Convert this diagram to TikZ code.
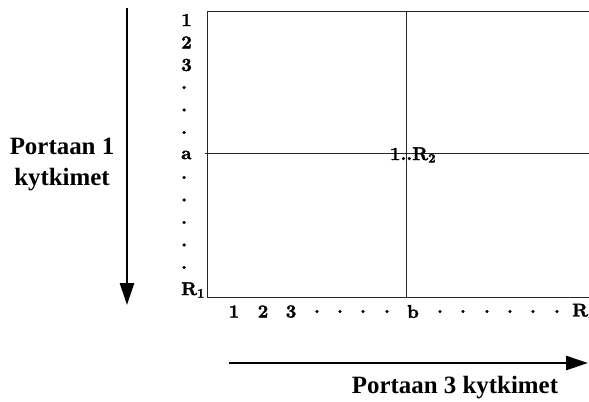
\documentclass[tikz,border=0pt]{standalone}
\usepackage{fontspec}
\newfontfamily\capfont{Liberation Serif}
\newfontfamily\idxfont{lmroman10-bold.otf}[FakeBold=1.8]
\usetikzlibrary{arrows.meta}

\tikzset{
    idx/.style={font=\idxfont\fontsize{18.5}{18.5}\selectfont, inner sep=0pt},
    caption/.style={font=\capfont\bfseries\fontsize{25}{32}\selectfont, align=center, inner sep=0pt},
    gridline/.style={line width=1bp, black!85},
    axisarrow/.style={line width=2.6bp, -{Triangle[length=22bp,width=14bp]}}
}

\begin{document}
\begin{tikzpicture}[x=1bp,y=-1bp]
        \useasboundingbox (0,0) rectangle (589,401);
        \clip (0,0) rectangle (589,401);

        % Switch frame
        \coordinate (tl) at (207,11);
        \coordinate (bl) at (207,297);
        \coordinate (tr) at (600,11);
        \coordinate (br) at (600,297);
        \draw[gridline] (tr) -- (tl) -- (bl) -- (br);

        % Crossing lines
        \coordinate (aw) at (205,153);
        \coordinate (ae) at (600,153);
        \coordinate (bn) at (406,11);
        \coordinate (bs) at (406,297);
        \draw[gridline] (aw) -- (ae);
        \draw[gridline] (bn) -- (bs);
        \node[idx] (cross) at (413,155) {1..R\textsubscript{2}};

        % Row labels, stage 1
        \foreach \lbl [count=\i from 0] in {1,2,3,.,.,.,a,.,.,.,.,.,R\textsubscript{1}}
            \node[idx, anchor=west] (row\i) at (181,{20+22.5*\i}) {\lbl};

        % Column labels, stage 3
        \foreach \x/\lbl [count=\i] in {234/1,263/2,291/3,317/.,340/.,363/.,387/.,
                413/b,440/.,463/.,487/.,510/.,533/.,557/.}
            \node[idx] (col\i) at (\x,311.5) {\lbl};
        \node[idx, anchor=west] (colR) at (572,311.5) {R\textsubscript{3}};

        % Stage 1 arrow
        \coordinate (p1s) at (127,8);
        \coordinate (p1e) at (127,305);
        \draw[axisarrow] (p1s) -- (p1e);
        \node[caption] (p1) at (62,164.5) {Portaan 1\\kytkimet};

        % Stage 3 arrow
        \coordinate (p3s) at (229,363);
        \coordinate (p3e) at (588,363);
        \draw[axisarrow] (p3s) -- (p3e);
        \node[caption, anchor=base] (p3) at (455,393) {Portaan 3 kytkimet};
\end{tikzpicture}
\end{document}
